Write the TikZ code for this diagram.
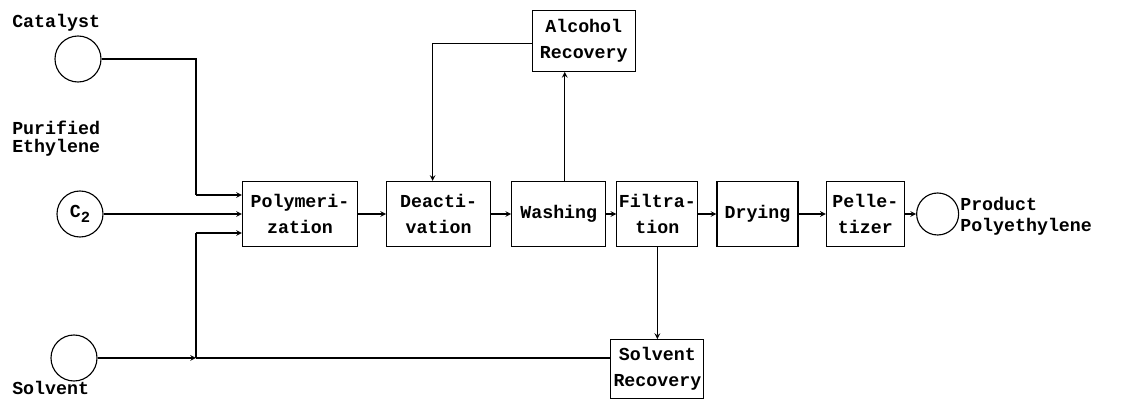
\documentclass[tikz,border=0pt]{standalone}
\usepackage{fontspec}
\setmainfont{Liberation Mono}
\usetikzlibrary{shapes.geometric, arrows, positioning}

\begin{document}
\begin{tikzpicture}[node distance=0.5cm and 0.5cm, font=\bfseries\fontsize{13}{18.5}\selectfont]
\tikzstyle{box} = [rectangle, minimum height=1.625cm, inner sep=1pt, align=center, draw=black, thick]
\tikzstyle{tank} = [circle, minimum size=1.15cm, inner sep=0pt, draw=black, thick]
\tikzstyle{label} = [anchor=west, align=left, inner sep=0pt]
\tikzstyle{arrow} = [thick,->,>=stealth]
\tikzstyle{line} = [thick]
\useasboundingbox (0,0) rectangle (28.65,-10);
% Nodes
\node (poly) [box, minimum width=2.875cm] at (7.5,-5.35) {Polymeri-\\zation};
\node (deact) [box, minimum width=2.6cm, right=0.7cm of poly] {Deacti-\\vation};
\node (wash) [box, minimum width=2.35cm, right=0.5cm of deact] {Washing};
\node (filt) [box, minimum width=2.025cm, right=0.25cm of wash] {Filtra-\\tion};
\node (dry) [box, minimum width=2.025cm, right=0.45cm of filt] {Drying};
\node (pell) [box, minimum width=1.95cm, right=0.68cm of dry] {Pelle-\\tizer};
\node (prod) [tank, minimum size=1.05cm, right=0.28cm of pell] {};
\node (alc) [box, minimum width=2.575cm, minimum height=1.525cm, above=2.725cm of wash, xshift=0.625cm] {Alcohol\\Recovery};
\node (srec) [box, minimum width=2.325cm, minimum height=1.475cm, below=2.3cm of filt] {Solvent\\Recovery};

\node (cat) [tank] at (1.95,-1.475) {};
\node (c2) [tank] at (2.0,-5.35) {C\raisebox{-4pt}{\fontsize{11}{11}\selectfont 2}};
\node (solv) [tank] at (1.85,-8.95) {};

\node (catlbl) [label] at (0.3,-0.575) {Catalyst};
\node (ethlbl) [label] at (0.3,-3.475) {Purified\\[-5.5pt]Ethylene};
\node (solvlbl) [label] at (0.3,-9.7) {Solvent};
\node (prodlbl) [label, right=0.02cm of prod, yshift=-0.05cm] {Product\\[-3.5pt]Polyethylene};

\coordinate (jcat) at (4.9,-4.875);
\coordinate (jsolv) at (4.9,-8.95);
\coordinate (jfeed) at (4.9,-5.825);

% Arrows
\draw [line] (cat.east) -| (jcat);
\draw [arrow] (jcat) -- (jcat -| poly.west);
\draw [arrow] (c2.east) -- (poly.west);
\draw [arrow] (solv.east) -- (jsolv);
\draw [line] (srec.west |- jsolv) -- (jsolv);
\draw [line] (jsolv) -- (jfeed);
\draw [arrow] (jfeed) -- (jfeed -| poly.west);
\draw [arrow] (poly) -- (deact);
\draw [arrow] (deact) -- (wash);
\draw [arrow] (wash) -- (filt);
\draw [arrow] (filt) -- (dry);
\draw [arrow] (dry) -- (pell);
\draw [arrow] (pell) -- (prod);
\draw [arrow] ([xshift=0.15cm]wash.north) -- ([xshift=0.15cm]wash.north |- alc.south);
\draw [arrow] ([yshift=-0.075cm]alc.west) -| ([xshift=-0.15cm]deact.north);
\draw [arrow] (filt.south) -- (srec.north);

\end{tikzpicture}
\end{document}
